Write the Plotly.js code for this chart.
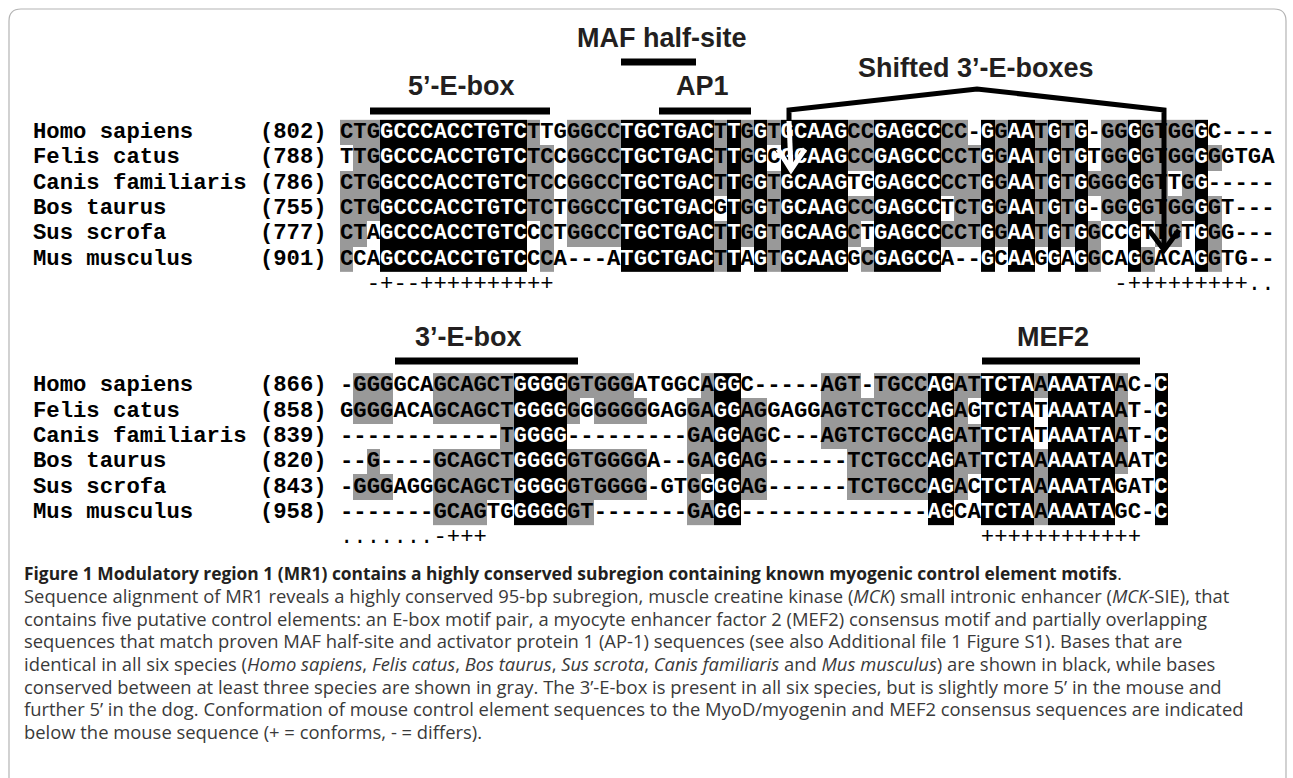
<!DOCTYPE html>
<html><head><meta charset="utf-8">
<script src="https://cdn.plot.ly/plotly-3.0.1.min.js"></script>
<style>html,body{margin:0;padding:0;background:#fff}#chart{width:1293px;height:778px}</style>
</head><body><div id="chart"></div>
<script>
// ---------------- data ----------------
const species = ["Homo sapiens","Felis catus","Canis familiaris","Bos taurus","Sus scrofa","Mus musculus"];
const block1Start = ["(802)","(788)","(786)","(755)","(777)","(901)"];
const block2Start = ["(866)","(858)","(839)","(820)","(843)","(958)"];
const block1Seqs = [
 "CTGGCCCACCTGTCTTGGGCCTGCTGACTTGGTGCAAGCCGAGCCCC-GGAATGTG-GGGGTGGGC----",
 "TTGGCCCACCTGTCTCCGGCCTGCTGACTTGGCGCAAGCCGAGCCCCTGGAATGTGTGGGGTGGGGGTGA",
 "CTGGCCCACCTGTCTCCGGCCTGCTGACTTGGTGCAAGTGGAGCCCCTGGAATGTGGGGGGTTGG-----",
 "CTGGCCCACCTGTCTCTGGCCTGCTGACGTGGTGCAAGCCGAGCCTCTGGAATGTG-GGGGTGGGGT---",
 "CTAGCCCACCTGTCCCTGGCCTGCTGACTTGGTGCAAGCTGAGCCCCTGGAATGTGGCCGTTGTGGG---",
 "CCAGCCCACCTGTCCCA---ATGCTGACTTAGTGCAAGGCGAGCCA--GCAAGGAGGCAGGACAGGTG--"
];
const block2Seqs = [
 "-GGGGCAGCAGCTGGGGGTGGGATGGCAGGC-----AGT-TGCCAGATTCTAAAAATAAC-C",
 "GGGGACAGCAGCTGGGGGGGGGGGAGGAGGAGGAGGAGTCTGCCAGAGTCTATAAATAAT-C",
 "------------TGGGG---------GAGGAGC---AGTCTGCCAGATTCTATAAATAAT-C",
 "--G----GCAGCTGGGGGTGGGGA--GAGGAG------TCTGCCAGATTCTAAAAATAAATC",
 "-GGGAGGGCAGCTGGGGGTGGGG-GTGGGGAG------TCTGCCAGACTCTAAAAATAGATC",
 "-------GCAGTGGGGGGT-------GAGG--------------AGCATCTAAAAATAGC-C"
];
// conformity marks under the mouse sequence: [first column, symbols]
const marks1 = [[2,"-+--++++++++++"],[58,"-+++++++++.."]];
const marks2 = [[0,".......-+++"],[48,"++++++++++++"]];
const motifLabels = ["MAF half-site","5’-E-box","AP1","Shifted 3’-E-boxes","3’-E-box","MEF2"];
const captionLines = [
 "<b>Figure 1 Modulatory region 1 (MR1) contains a highly conserved subregion containing known myogenic control element motifs</b>.",
 "Sequence alignment of MR1 reveals a highly conserved 95-bp subregion, muscle creatine kinase (<i>MCK</i>) small intronic enhancer (<i>MCK</i>-SIE), that",
 "contains five putative control elements: an E-box motif pair, a myocyte enhancer factor 2 (MEF2) consensus motif and partially overlapping",
 "sequences that match proven MAF half-site and activator protein 1 (AP-1) sequences (see also Additional file 1 Figure S1). Bases that are",
 "identical in all six species (<i>Homo sapiens</i>, <i>Felis catus</i>, <i>Bos taurus</i>, <i>Sus scrota</i>, <i>Canis familiaris</i> and <i>Mus musculus</i>) are shown in black, while bases",
 "conserved between at least three species are shown in gray. The 3’-E-box is present in all six species, but is slightly more 5’ in the mouse and",
 "further 5’ in the dog. Conformation of mouse control element sequences to the MyoD/myogenin and MEF2 consensus sequences are indicated",
 "below the mouse sequence (+ = conforms, - = differs)."
];

// ---------------- geometry ----------------
const W = 1293, H = 778;
const COLW = 13.35, X0 = 340;    // pixel of left edge of alignment column 0
const LINEH = 25.33, Y0 = 132.5; // pixel of centre of text line 0
const px2x = p => (p - X0) / COLW;
const py2y = p => (p - Y0) / LINEH;
const MONO = "Liberation Mono, Courier New, monospace";
const FS = 22.25;
const SANS = "Liberation Sans, Arial, sans-serif";
const CAP = "Open Sans, Noto Sans, sans-serif";

// conservation shading (0 white, 1 gray: shared by >=3 species, 2 black: identical in all)
function shade(seqs){
  const n = seqs.length, L = seqs[0].length;
  return seqs.map(s => {
    const row = [];
    for (let c = 0; c < L; c++){
      const ch = s[c];
      if (ch === '-') { row.push(0); continue; }
      const col = seqs.map(q => q[c]);
      const counts = {};
      col.forEach(x => { if (x !== '-') counts[x] = (counts[x] || 0) + 1; });
      if (counts[ch] === n) { row.push(2); continue; }
      let best = null, bc = 0;
      for (const k in counts) if (counts[k] > bc) { bc = counts[k]; best = k; }
      row.push(ch === best && bc >= 3 ? 1 : 0);
    }
    return row;
  });
}

const traces = [];
const scale = [[0,'#ffffff'],[0.25,'#ffffff'],[0.25,'#999999'],[0.75,'#999999'],[0.75,'#000000'],[1,'#000000']];
function addBlock(seqs, starts, firstLine, marks){
  const z = shade(seqs);
  const L = seqs[0].length;
  const xs = Array.from({length: L}, (_, c) => c + 0.5);
  const ys = seqs.map((_, r) => firstLine + r);
  traces.push({type:'heatmap', x: xs, y: ys, z: z, zmin: 0, zmax: 2, colorscale: scale,
    showscale: false, hoverinfo: 'skip', xgap: 0, ygap: 0});
  const tx = [], ty = [], tt = [], tc = [];
  seqs.forEach((s, r) => {
    for (let c = 0; c < L; c++){
      tx.push(c + 0.5); ty.push(firstLine + r); tt.push(s[c]);
      tc.push(z[r][c] === 2 ? '#ffffff' : '#000000');
    }
  });
  traces.push({type:'scatter', mode:'text', x: tx, y: ty, text: tt, textposition:'middle center',
    textfont:{family: MONO, size: FS, color: tc, weight: 700}, hoverinfo:'skip', cliponaxis:false, showlegend:false});
  // names and start positions
  traces.push({type:'scatter', mode:'text', x: species.map(s => -23 + s.length/2), y: ys, text: species,
    textposition:'middle center', textfont:{family: MONO, size: FS, color:'#000', weight:700},
    hoverinfo:'skip', cliponaxis:false, showlegend:false});
  traces.push({type:'scatter', mode:'text', x: starts.map(s => -6 + s.length/2), y: ys, text: starts,
    textposition:'middle center', textfont:{family: MONO, size: FS, color:'#000', weight:700},
    hoverinfo:'skip', cliponaxis:false, showlegend:false});
  // conformity marks
  const mx = [], my = [], mt = [];
  marks.forEach(([start, sym]) => {
    for (let i = 0; i < sym.length; i++){ mx.push(start + i + 0.5); my.push(firstLine + seqs.length); mt.push(sym[i]); }
  });
  traces.push({type:'scatter', mode:'text', x: mx, y: my, text: mt, textposition:'middle center',
    textfont:{family: MONO, size: FS, color:'#000'}, hoverinfo:'skip', cliponaxis:false, showlegend:false});
}
addBlock(block1Seqs, block1Start, 0, marks1);
addBlock(block2Seqs, block2Start, 10, marks2);

// ---------------- decorations ----------------
const P = (px, py) => px2x(px) + ',' + py2y(py);
const shapes = [];
function bar(x1, x2, y){ shapes.push({type:'line', xref:'x', yref:'y', x0:px2x(x1), x1:px2x(x2), y0:py2y(y), y1:py2y(y), line:{color:'#000', width:7}}); }
bar(621, 696, 62);   // MAF half-site
bar(370, 550, 111);  // 5'-E-box
bar(659, 751, 111);  // AP1
bar(395, 578, 361);  // 3'-E-box
bar(982, 1140, 361); // MEF2
// shifted 3'-E-box bracket with arrows
shapes.push({type:'path', xref:'x', yref:'y', line:{color:'#000', width:5},
  path: 'M' + P(789,122) + ' L' + P(789,110) + ' L' + P(977,89) + ' L' + P(1164,110) + ' L' + P(1164,248)});
shapes.push({type:'path', xref:'x', yref:'y', line:{color:'#000', width:5},
  path: 'M' + P(1149,230) + ' L' + P(1164,250) + ' L' + P(1179,230)});
shapes.push({type:'path', xref:'x', yref:'y', line:{color:'#fff', width:5},
  path: 'M' + P(789,121) + ' L' + P(791,168)});
shapes.push({type:'path', xref:'x', yref:'y', line:{color:'#fff', width:5},
  path: 'M' + P(778,149) + ' L' + P(791,170) + ' L' + P(805,149)});
// figure frame
shapes.push({type:'path', xref:'x', yref:'y', line:{color:'#b4b4b4', width:1.2},
  path: 'M' + P(9,800) + ' L' + P(9,21) + ' Q' + P(9,9) + ' ' + P(21,9) + ' L' + P(1274,9) + ' Q' + P(1286,9) + ' ' + P(1286,21) + ' L' + P(1286,800)});

const annotations = [];
const labelPos = [[662,38],[461,86],[702,86],[976,68],[468,337],[1053,337]];
motifLabels.forEach((t, i) => {
  annotations.push({xref:'x', yref:'y', x: px2x(labelPos[i][0]), y: py2y(labelPos[i][1]), text: t, showarrow:false,
    xanchor:'center', yanchor:'middle', font:{family: SANS, size: 27, color:'#231f20', weight:700}});
});
captionLines.forEach((t, i) => {
  annotations.push({xref:'paper', yref:'paper', x: 22/W, y: 1 - (573 + i*22.6)/H, text: t, showarrow:false,
    xanchor:'left', yanchor:'middle', align:'left',
    font:{family: CAP, size: i === 0 ? 17.4 : 18.4, color: i === 0 ? '#231f20' : '#3a3a3a'}});
});

const layout = {
  width: W, height: H, margin:{l:0, r:0, t:0, b:0},
  paper_bgcolor:'#ffffff', plot_bgcolor:'#ffffff', showlegend:false,
  xaxis:{range:[px2x(0), px2x(W)], visible:false, fixedrange:true},
  yaxis:{range:[py2y(H), py2y(0)], visible:false, fixedrange:true},
  shapes: shapes, annotations: annotations, hovermode:false
};
Plotly.newPlot('chart', traces, layout, {staticPlot:true, displayModeBar:false});
</script>
</body></html>
